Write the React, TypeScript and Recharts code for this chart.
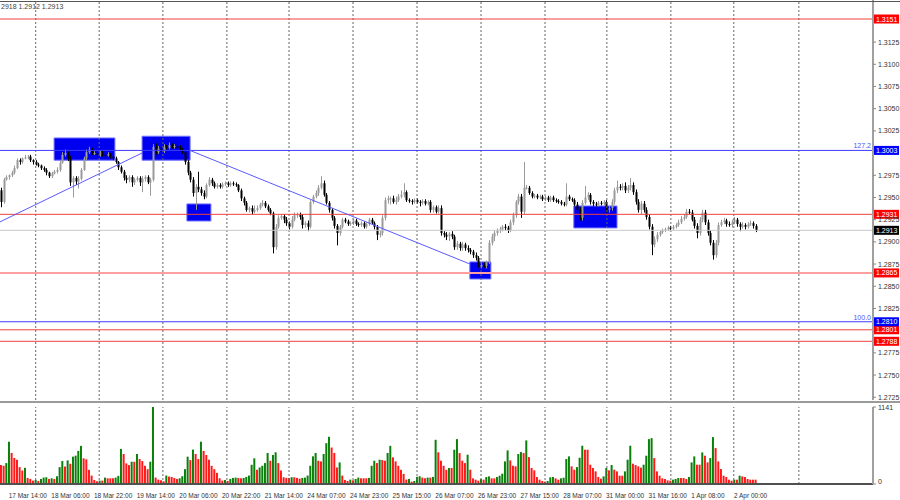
import React from 'react';
import { ComposedChart, Bar, Cell, XAxis, YAxis, ReferenceLine, ReferenceArea } from 'recharts';

// GBPUSD H1, 17 Mar - 2 Apr
const PIP = 0.0001;
const firstOpen = 1.2958;

const closes = [
  1.2945, 1.2970, 1.2973, 1.2975, 1.2978, 1.2983, 1.2992, 1.2990, 1.2994, 1.2995, 1.2996, 1.2992, 1.2990, 1.2987, 1.2986, 1.2983,
  1.2981, 1.2978, 1.2974, 1.2977, 1.2979, 1.2981, 1.2989, 1.2998, 1.3000, 1.2994, 1.2967, 1.2972, 1.2968, 1.2971, 1.2981, 1.2994,
  1.3001, 1.3004, 1.3000, 1.3000, 1.2998, 1.3001, 1.2998, 1.2997, 1.2999, 1.2996, 1.2994, 1.2990, 1.2984, 1.2979, 1.2972, 1.2970,
  1.2973, 1.2967, 1.2970, 1.2972, 1.2967, 1.2971, 1.2973, 1.2967, 1.2970, 1.3007, 1.3001, 1.3005, 1.3002, 1.3007, 1.3006, 1.3009,
  1.3007, 1.3008, 1.3006, 1.3004, 1.3001, 1.2990, 1.2978, 1.2970, 1.2955, 1.2962, 1.2959, 1.2955, 1.2951, 1.2964, 1.2970, 1.2966,
  1.2962, 1.2964, 1.2962, 1.2965, 1.2966, 1.2964, 1.2966, 1.2965, 1.2964, 1.2958, 1.2949, 1.2944, 1.2936, 1.2938, 1.2934, 1.2936,
  1.2938, 1.2942, 1.2944, 1.2940, 1.2936, 1.2932, 1.2894, 1.2917, 1.2927, 1.2929, 1.2925, 1.2921, 1.2917, 1.2925, 1.2930, 1.2931,
  1.2928, 1.2919, 1.2921, 1.2917, 1.2945, 1.2951, 1.2955, 1.2961, 1.2966, 1.2953, 1.2944, 1.2936, 1.2927, 1.2918, 1.2910, 1.2917,
  1.2925, 1.2923, 1.2920, 1.2921, 1.2924, 1.2920, 1.2919, 1.2921, 1.2917, 1.2920, 1.2925, 1.2921, 1.2917, 1.2908, 1.2910, 1.2927,
  1.2947, 1.2949, 1.2949, 1.2945, 1.2947, 1.2951, 1.2953, 1.2956, 1.2947, 1.2946, 1.2945, 1.2947, 1.2945, 1.2944, 1.2946, 1.2943,
  1.2945, 1.2936, 1.2939, 1.2934, 1.2938, 1.2910, 1.2908, 1.2906, 1.2909, 1.2906, 1.2894, 1.2898, 1.2893, 1.2897, 1.2893, 1.2891,
  1.2889, 1.2885, 1.2882, 1.2872, 1.2874, 1.2873, 1.2877, 1.2899, 1.2906, 1.2910, 1.2913, 1.2914, 1.2917, 1.2916, 1.2913, 1.2922,
  1.2930, 1.2945, 1.2951, 1.2934, 1.2961, 1.2961, 1.2955, 1.2951, 1.2952, 1.2950, 1.2951, 1.2948, 1.2950, 1.2947, 1.2950, 1.2947,
  1.2946, 1.2945, 1.2943, 1.2942, 1.2951, 1.2948, 1.2947, 1.2942, 1.2936, 1.2927, 1.2944, 1.2950, 1.2953, 1.2945, 1.2943, 1.2942,
  1.2944, 1.2943, 1.2945, 1.2936, 1.2938, 1.2945, 1.2958, 1.2962, 1.2961, 1.2963, 1.2958, 1.2961, 1.2964, 1.2956, 1.2945, 1.2936,
  1.2943, 1.2936, 1.2928, 1.2917, 1.2897, 1.2903, 1.2908, 1.2911, 1.2913, 1.2914, 1.2916, 1.2915, 1.2917, 1.2919, 1.2922, 1.2926,
  1.2928, 1.2934, 1.2933, 1.2925, 1.2918, 1.2910, 1.2925, 1.2933, 1.2922, 1.2910, 1.2899, 1.2885, 1.2899, 1.2919, 1.2922, 1.2924,
  1.2920, 1.2919, 1.2922, 1.2925, 1.2920, 1.2917, 1.2919, 1.2917, 1.2920, 1.2921, 1.2918, 1.2913,
];

// wick lengths in pips above / below the body
const upWick = [
  3, 2, 2, 1, 2, 3, 2, 2, 1, 3, 2, 2, 1, 2, 2, 1,
  2, 2, 1, 2, 2, 3, 2, 3, 4, 2, 3, 2, 2, 3, 2, 2,
  3, 3, 2, 2, 3, 2, 2, 2, 2, 1, 2, 2, 1, 2, 2, 3,
  2, 2, 2, 2, 2, 3, 2, 2, 2, 3, 4, 3, 2, 3, 2, 3,
  2, 2, 2, 3, 2, 2, 2, 2, 3, 3, 17, 3, 3, 2, 3, 2,
  2, 2, 2, 2, 2, 2, 2, 2, 2, 1, 2, 2, 2, 2, 3, 5,
  3, 2, 3, 2, 2, 2, 2, 3, 3, 2, 2, 3, 2, 4, 3, 2,
  2, 3, 2, 3, 2, 2, 3, 3, 8, 3, 2, 2, 2, 2, 2, 2,
  2, 2, 2, 2, 2, 2, 2, 2, 2, 2, 2, 2, 2, 2, 3, 3,
  3, 3, 2, 3, 4, 3, 5, 10, 2, 2, 2, 2, 2, 2, 2, 2,
  2, 2, 2, 2, 3, 3, 2, 3, 2, 3, 2, 3, 2, 3, 2, 3,
  2, 2, 3, 2, 3, 3, 2, 3, 3, 3, 2, 3, 2, 3, 2, 3,
  3, 2, 3, 3, 29, 3, 2, 2, 2, 2, 2, 2, 2, 2, 2, 2,
  2, 2, 2, 2, 15, 2, 2, 2, 3, 3, 3, 13, 3, 2, 2, 2,
  2, 2, 2, 2, 3, 3, 3, 7, 3, 3, 4, 3, 8, 3, 3, 3,
  3, 3, 3, 3, 3, 3, 3, 2, 2, 2, 2, 2, 2, 2, 3, 3,
  3, 3, 3, 3, 3, 3, 3, 3, 3, 3, 3, 3, 3, 3, 3, 3,
  2, 3, 3, 3, 2, 2, 3, 2, 2, 3, 2, 2,
];

const dnWick = [
  6, 2, 1, 3, 2, 2, 1, 3, 2, 1, 2, 2, 3, 1, 2, 2,
  2, 3, 2, 2, 1, 2, 2, 1, 2, 3, 4, 17, 4, 8, 2, 1,
  2, 2, 2, 2, 1, 2, 2, 2, 1, 2, 2, 2, 3, 2, 3, 4,
  3, 5, 3, 2, 4, 11, 3, 2, 15, 2, 3, 2, 2, 2, 2, 2,
  2, 2, 2, 2, 2, 3, 3, 3, 4, 19, 3, 3, 3, 2, 2, 3,
  2, 2, 2, 2, 2, 2, 2, 2, 2, 2, 3, 3, 2, 3, 3, 2,
  2, 2, 2, 2, 2, 2, 7, 3, 2, 2, 4, 3, 3, 2, 2, 3,
  3, 4, 3, 5, 2, 2, 2, 3, 2, 2, 2, 3, 3, 3, 14, 3,
  2, 2, 2, 2, 2, 2, 2, 2, 2, 2, 2, 2, 3, 6, 3, 3,
  3, 4, 7, 2, 3, 2, 2, 3, 2, 2, 3, 2, 2, 4, 2, 2,
  2, 3, 3, 2, 2, 3, 3, 4, 5, 3, 3, 3, 3, 3, 3, 3,
  3, 3, 3, 1, 2, 2, 3, 2, 3, 5, 3, 3, 2, 3, 3, 2,
  3, 3, 3, 7, 3, 2, 2, 2, 2, 2, 2, 2, 2, 2, 2, 2,
  2, 2, 2, 2, 2, 2, 2, 2, 3, 3, 3, 2, 3, 3, 3, 2,
  2, 2, 2, 3, 3, 3, 3, 3, 3, 3, 3, 3, 3, 3, 3, 3,
  5, 3, 3, 3, 12, 3, 3, 2, 2, 2, 2, 2, 2, 2, 2, 2,
  2, 2, 2, 2, 3, 6, 3, 3, 3, 3, 3, 5, 3, 3, 2, 2,
  3, 2, 3, 2, 3, 5, 2, 3, 2, 2, 3, 2,
];

const volumes = [
  281, 270, 310, 627, 460, 385, 360, 250, 200, 240, 90, 75, 50, 60, 45, 75,
  95, 100, 75, 85, 75, 115, 250, 340, 260, 350, 300, 405, 420, 490, 565, 380,
  365, 210, 125, 60, 40, 50, 50, 95, 85, 85, 85, 95, 120, 520, 445, 305,
  280, 330, 330, 445, 370, 340, 270, 220, 330, 1141, 95, 65, 55, 40, 125, 110,
  105, 90, 75, 85, 115, 220, 405, 355, 510, 445, 370, 627, 490, 430, 360, 270,
  220, 165, 85, 50, 60, 45, 75, 90, 95, 90, 85, 90, 105, 125, 285, 380,
  210, 245, 270, 310, 460, 345, 430, 470, 310, 200, 100, 90, 90, 100, 100, 90,
  80, 90, 95, 125, 270, 410, 460, 345, 335, 445, 605, 700, 540, 460, 245, 320,
  125, 60, 45, 65, 55, 75, 95, 85, 85, 85, 90, 270, 345, 310, 360, 355,
  345, 460, 565, 395, 335, 270, 210, 150, 65, 75, 35, 45, 105, 115, 95, 85,
  95, 95, 105, 655, 470, 345, 270, 210, 237, 237, 508, 665, 458, 345, 310, 434,
  212, 84, 64, 49, 74, 64, 104, 113, 84, 84, 104, 123, 153, 335, 498, 350,
  271, 261, 444, 473, 458, 646, 399, 237, 202, 104, 64, 44, 35, 44, 99, 104,
  84, 64, 84, 94, 370, 409, 261, 212, 251, 389, 567, 508, 508, 286, 237, 187,
  104, 79, 113, 237, 202, 281, 212, 187, 123, 123, 187, 360, 567, 301, 281, 261,
  242, 286, 419, 665, 680, 384, 187, 123, 84, 74, 54, 49, 64, 74, 89, 89,
  89, 74, 104, 320, 409, 286, 286, 468, 419, 320, 384, 695, 532, 335, 222, 123,
  104, 64, 49, 64, 64, 123, 113, 104, 74, 64, 64, 64,
];

const timeLabelIdx = [2, 18, 34, 50, 66, 82, 98, 114, 130, 146, 162, 178, 194, 210, 226, 242, 258, 274];
const timeLabels = [
  '17 Mar 14:00', '18 Mar 06:00', '18 Mar 22:00', '19 Mar 14:00', '20 Mar 06:00', '20 Mar 22:00',
  '21 Mar 14:00', '24 Mar 07:00', '24 Mar 23:00', '25 Mar 15:00', '26 Mar 07:00', '26 Mar 23:00',
  '27 Mar 15:00', '28 Mar 07:00', '31 Mar 00:00', '31 Mar 16:00', '1 Apr 08:00', '2 Apr 00:00',
];
const gridIdx = [12.9, 36.7, 60.6, 84.6, 107.9, 131.9, 155.9, 179.9, 203.9, 227.1, 251.1, 274.7, 299.1];
// ticks hidden behind the level tags (1.3150, 1.3000, 1.2800) are left out
const priceTicks = [
  1.3125, 1.31, 1.3075, 1.305, 1.3025, 1.2975, 1.295, 1.2925, 1.29,
  1.2875, 1.285, 1.2825, 1.2775, 1.275, 1.2725,
];
const volTicks = [0, 1141];

const redLevels = [1.3151, 1.2931, 1.2801, 1.2788];
const fibLevels = [1.3003, 1.281];
const fibNames = ['127.2', '100.0'];
const supportLevel = 1.2865;
const lastPrice = 1.2913;

// [fromIdx, toIdx, lowPrice, highPrice]
const boxes = [
  [19.8, 42.6, 1.2992, 1.3017],
  [52.8, 70.8, 1.2992, 1.3019],
  [69.6, 78.6, 1.29235, 1.29427],
  [175.7, 183.6, 1.28582, 1.28774],
  [214.7, 230.9, 1.29157, 1.29404],
];
const trendLines = [
  [{ x: -0.49, y: 1.29225 }, { x: 52.8, y: 1.30001 }],
  [{ x: 70.8, y: 1.30029 }, { x: 175.7, y: 1.28751 }],
];

const candles = closes.map((c, i) => {
  const o = i === 0 ? firstOpen : closes[i - 1];
  return {
    i,
    open: o,
    close: c,
    high: Math.max(o, c) + upWick[i] * PIP,
    low: Math.min(o, c) - dnWick[i] * PIP,
  };
});
const volData = volumes.map((v, i) => ({ i, vol: v, up: i > 0 && v > volumes[i - 1] }));

const X_DOMAIN: [number, number] = [-0.49, 326.9];
const FONT = '"Liberation Sans", Arial, sans-serif';

const Candle = (props: any) => {
  const { x, y, width, height, payload } = props;
  if (x == null || payload == null) return null;
  const top = Math.min(y, y + height);
  const h = Math.abs(height);
  const range = payload.high - payload.low || 1e-9;
  const k = h / range;
  const yO = top + (payload.high - payload.open) * k;
  const yC = top + (payload.high - payload.close) * k;
  const up = payload.close >= payload.open;
  const color = up ? '#9a9a9a' : '#000000';
  const cx = Math.round(x + width / 2);
  return (
    <g>
      <line x1={cx + 0.5} x2={cx + 0.5} y1={top} y2={top + h} stroke={color} strokeWidth={1} />
      <rect x={cx - 0.5} y={Math.min(yO, yC)} width={2} height={Math.max(1, Math.abs(yC - yO))} fill={color} />
    </g>
  );
};

const PriceTag = (props: any) => {
  const { viewBox, bg, price, note, noteColor } = props;
  if (!viewBox) return null;
  const right = viewBox.x + viewBox.width;
  const y = viewBox.y;
  return (
    <g>
      {note && (
        <text x={right - 2} y={y - 2} textAnchor="end" fontSize={7} fill={noteColor} fontFamily={FONT}>
          {note}
        </text>
      )}
      <rect x={right + 1} y={y - 4.5} width={25} height={9} fill={bg} />
      <text x={right + 3} y={y + 2.5} fontSize={7} fill="#ffffff" fontFamily={FONT}>
        {price.toFixed(4)}
      </text>
    </g>
  );
};

const PriceTick = (props: any) => {
  const { x, y, payload } = props;
  return (
    <text x={x} y={y + 2.5} fontSize={7} fill="#333" fontFamily={FONT}>
      {payload.value.toFixed(4)}
    </text>
  );
};

const VolTick = (props: any) => {
  const { x, y, payload } = props;
  return (
    <text x={x} y={payload.value === 0 ? y : y + 3} fontSize={7} fill="#333" fontFamily={FONT}>
      {payload.value}
    </text>
  );
};

const TimeTick = (props: any) => {
  const { x, y, payload } = props;
  const k = timeLabelIdx.indexOf(payload.value);
  return (
    <text x={x + 2} y={y + 6} fontSize={6.5} fill="#333" fontFamily={FONT}>
      {timeLabels[k]}
    </text>
  );
};

export default function App() {
  return (
    <div
      style={{
        position: 'absolute',
        left: 0,
        top: 0,
        width: 900,
        height: 500,
        background: '#fff',
        overflow: 'hidden',
        fontFamily: FONT,
      }}
    >
      <div style={{ position: 'absolute', left: 0, top: 0 }}>
        <ComposedChart width={900} height={400} data={candles} margin={{ top: 0, right: 0, bottom: 0, left: 0 }}>
          <XAxis type="number" dataKey="i" domain={X_DOMAIN} hide allowDataOverflow />
          <YAxis
            orientation="right"
            width={27}
            domain={[1.27219, 1.31724]}
            allowDataOverflow
            ticks={priceTicks}
            interval={0}
            tick={<PriceTick />}
            tickSize={3}
            tickLine={{ stroke: '#888' }}
            axisLine={{ stroke: '#a0a0a0', strokeWidth: 2 }}
          />
          {gridIdx.map((g) => (
            <ReferenceLine key={'g' + g} x={g} stroke="#666" strokeDasharray="2 2" />
          ))}
          {boxes.map((b, k) => (
            <ReferenceArea
              key={'b' + k}
              x1={b[0]}
              x2={b[1]}
              y1={b[2]}
              y2={b[3]}
              fill="#0000f0"
              fillOpacity={1}
              stroke="#7070ff"
              strokeWidth={1}
            />
          ))}
          <ReferenceLine
            y={lastPrice}
            stroke="#c8c8c8"
            label={<PriceTag bg="#000" price={lastPrice} />}
          />
          <ReferenceLine
            y={supportLevel}
            stroke="#ffa0a0"
            strokeWidth={2}
            label={<PriceTag bg="#ff0000" price={supportLevel} />}
          />
          {redLevels.map((p) => (
            <ReferenceLine key={'r' + p} y={p} stroke="#f04040" label={<PriceTag bg="#ff0000" price={p} />} />
          ))}
          {fibLevels.map((p, k) => (
            <ReferenceLine
              key={'f' + p}
              y={p}
              stroke="#3c3cff"
              label={<PriceTag bg="#0000ff" price={p} note={fibNames[k]} noteColor="#5050ff" />}
            />
          ))}
          {trendLines.map((s, k) => (
            <ReferenceLine key={'t' + k} segment={s} stroke="#5a5aff" ifOverflow="visible" />
          ))}
          <Bar
            dataKey={(d: any) => [d.low, d.high]}
            barSize={2}
            shape={<Candle />}
            isAnimationActive={false}
          />
        </ComposedChart>
      </div>

      <div style={{ position: 'absolute', left: 0, top: 403 }}>
        <ComposedChart width={900} height={97} data={volData} margin={{ top: 4, right: 0, bottom: 0, left: 0 }}>
          <XAxis
            type="number"
            dataKey="i"
            domain={X_DOMAIN}
            allowDataOverflow
            ticks={timeLabelIdx}
            interval={0}
            height={16}
            tick={<TimeTick />}
            tickLine={false}
            axisLine={{ stroke: '#505050', strokeWidth: 2 }}
          />
          <YAxis
            orientation="right"
            width={27}
            domain={[0, 1141]}
            ticks={volTicks}
            interval={0}
            tick={<VolTick />}
            tickSize={3}
            tickLine={{ stroke: '#888' }}
            axisLine={{ stroke: '#a0a0a0', strokeWidth: 2 }}
          />
          {gridIdx.map((g) => (
            <ReferenceLine key={'vg' + g} x={g} stroke="#666" strokeDasharray="2 2" />
          ))}
          <Bar dataKey="vol" barSize={2} isAnimationActive={false}>
            {volData.map((d) => (
              <Cell key={d.i} fill={d.up ? '#0a800a' : '#ff1a1a'} />
            ))}
          </Bar>
        </ComposedChart>
      </div>

      <div style={{ position: 'absolute', left: 0, top: 1, width: 900, height: 1, background: '#555' }} />
      <div style={{ position: 'absolute', left: 0, top: 401, width: 900, height: 2, background: '#9a9a9a' }} />
      <div style={{ position: 'absolute', left: 1, top: 3, fontSize: 7, color: '#444', whiteSpace: 'nowrap' }}>
        2918 1.2912 1.2913
      </div>
    </div>
  );
}
